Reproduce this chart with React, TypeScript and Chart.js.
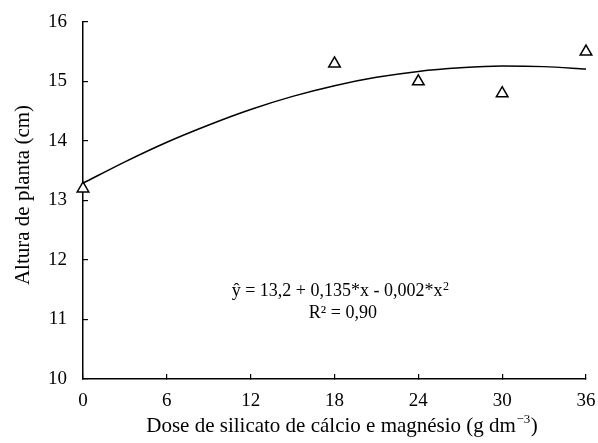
import React, { useEffect, useRef } from "react";
import { Chart, registerables } from "chart.js";

Chart.register(...registerables);

// Observed data (dose, plant height)
const doses = [0, 18, 24, 30, 36];
const heights = [13.2, 15.3, 15.0, 14.8, 15.5];

// Fitted curve
const curveX = [0, 3, 6, 9, 12, 15, 18, 21, 24, 27, 30, 33, 36];
const curveY = [13.29, 13.65, 13.98, 14.27, 14.53, 14.75, 14.93, 15.07, 15.17, 15.23, 15.26, 15.25, 15.21];

const xTicks = [0, 6, 12, 18, 24, 30, 36];
const yTicks = [10, 11, 12, 13, 14, 15, 16];

const eqLine1 = "ŷ = 13,2 + 0,135*x - 0,002*x";
const eqSup = "2";
const eqLine2 = "R² = 0,90";

const xTitleMain = "Dose de silicato de cálcio e magnésio (g dm";
const xTitleSup = "−3";
const xTitleEnd = ")";
const yTitle = "Altura de planta (cm)";

const FONT = "'Liberation Serif', 'Times New Roman', serif";

const textPlugin = {
  id: "texts",
  afterDraw(chart: any) {
    const { ctx, scales } = chart;
    const xs = scales.x;
    const ys = scales.y;
    ctx.save();
    ctx.fillStyle = "#000";
    ctx.textBaseline = "middle";

    // equation
    const cx1 = xs.getPixelForValue(18.4);
    const cx2 = xs.getPixelForValue(18.6);
    const y1 = ys.getPixelForValue(11.47);
    const y2 = ys.getPixelForValue(11.1);
    ctx.font = `18px ${FONT}`;
    const w1 = ctx.measureText(eqLine1).width;
    ctx.font = `12px ${FONT}`;
    const ws = ctx.measureText(eqSup).width;
    const start = cx1 - (w1 + ws) / 2;
    ctx.font = `18px ${FONT}`;
    ctx.textAlign = "left";
    ctx.fillText(eqLine1, start, y1);
    ctx.font = `12px ${FONT}`;
    ctx.fillText(eqSup, start + w1 + 0.5, y1 - 5);
    ctx.font = `18px ${FONT}`;
    ctx.textAlign = "center";
    ctx.fillText(eqLine2, cx2, y2);

    // x title
    ctx.font = `21px ${FONT}`;
    const wm = ctx.measureText(xTitleMain).width;
    const we = ctx.measureText(xTitleEnd).width;
    ctx.font = `13px ${FONT}`;
    const wsup = ctx.measureText(xTitleSup).width;
    const total = wm + wsup + we + 1;
    const tx = 342 - total / 2;
    const ty = 426;
    ctx.textAlign = "left";
    ctx.font = `21px ${FONT}`;
    ctx.fillText(xTitleMain, tx, ty);
    ctx.font = `13px ${FONT}`;
    ctx.fillText(xTitleSup, tx + wm + 0.5, ty - 6);
    ctx.font = `21px ${FONT}`;
    ctx.fillText(xTitleEnd, tx + wm + wsup + 1, ty);

    // y title
    ctx.translate(23, 195);
    ctx.rotate(-Math.PI / 2);
    ctx.textAlign = "center";
    ctx.font = `21px ${FONT}`;
    ctx.fillText(yTitle, 0, 0);
    ctx.restore();
  },
};

export default function App() {
  const ref = useRef<HTMLCanvasElement>(null);
  useEffect(() => {
    if (!ref.current) return;
    const chart = new Chart(ref.current, {
      type: "scatter",
      data: {
        datasets: [
          {
            type: "line",
            data: curveX.map((x, i) => ({ x, y: curveY[i] })),
            borderColor: "#000",
            borderWidth: 1.5,
            pointRadius: 0,
            tension: 0.4,
            cubicInterpolationMode: "monotone",
            fill: false,
            clip: false,
          } as any,
          {
            type: "scatter",
            data: doses.map((x, i) => ({ x, y: heights[i] })),
            pointStyle: "triangle",
            pointRadius: 6.7,
            backgroundColor: "#fff",
            borderColor: "#000",
            borderWidth: 1.5,
            clip: false,
          } as any,
        ],
      },
      options: {
        responsive: false,
        animation: false,
        layout: { padding: { left: 0, top: 22, right: 12, bottom: 0 } },
        plugins: { legend: { display: false }, tooltip: { enabled: false } },
        scales: {
          x: {
            type: "linear",
            min: 0,
            max: 36,
            afterBuildTicks: (s: any) => {
              s.ticks = xTicks.map((v) => ({ value: v }));
            },
            afterFit: (s: any) => {
              s.height = 64;
              s.paddingLeft = 0;
              s.paddingRight = 0;
            },
            grid: { drawOnChartArea: false, tickLength: -5, color: "#000", lineWidth: 1.2 },
            border: { color: "#000", width: 1.5 },
            ticks: { color: "#000", font: { family: FONT, size: 19 }, padding: 16, maxRotation: 0 },
            title: { display: false },
          },
          y: {
            type: "linear",
            min: 10,
            max: 16,
            afterBuildTicks: (s: any) => {
              s.ticks = yTicks.map((v) => ({ value: v }));
            },
            afterFit: (s: any) => {
              s.width = 83;
              s.paddingTop = 0;
              s.paddingBottom = 0;
            },
            grid: { drawOnChartArea: false, tickLength: -5, color: "#000", lineWidth: 1.2 },
            border: { color: "#000", width: 1.5 },
            ticks: { color: "#000", font: { family: FONT, size: 19 }, padding: 21 },
            title: { display: false },
          },
        },
      },
      plugins: [textPlugin],
    });
    return () => chart.destroy();
  }, []);
  return (
    <div style={{ position: "absolute", left: 0, top: 0, width: 598, height: 443, background: "#fff" }}>
      <canvas ref={ref} width={598} height={443} />
    </div>
  );
}
